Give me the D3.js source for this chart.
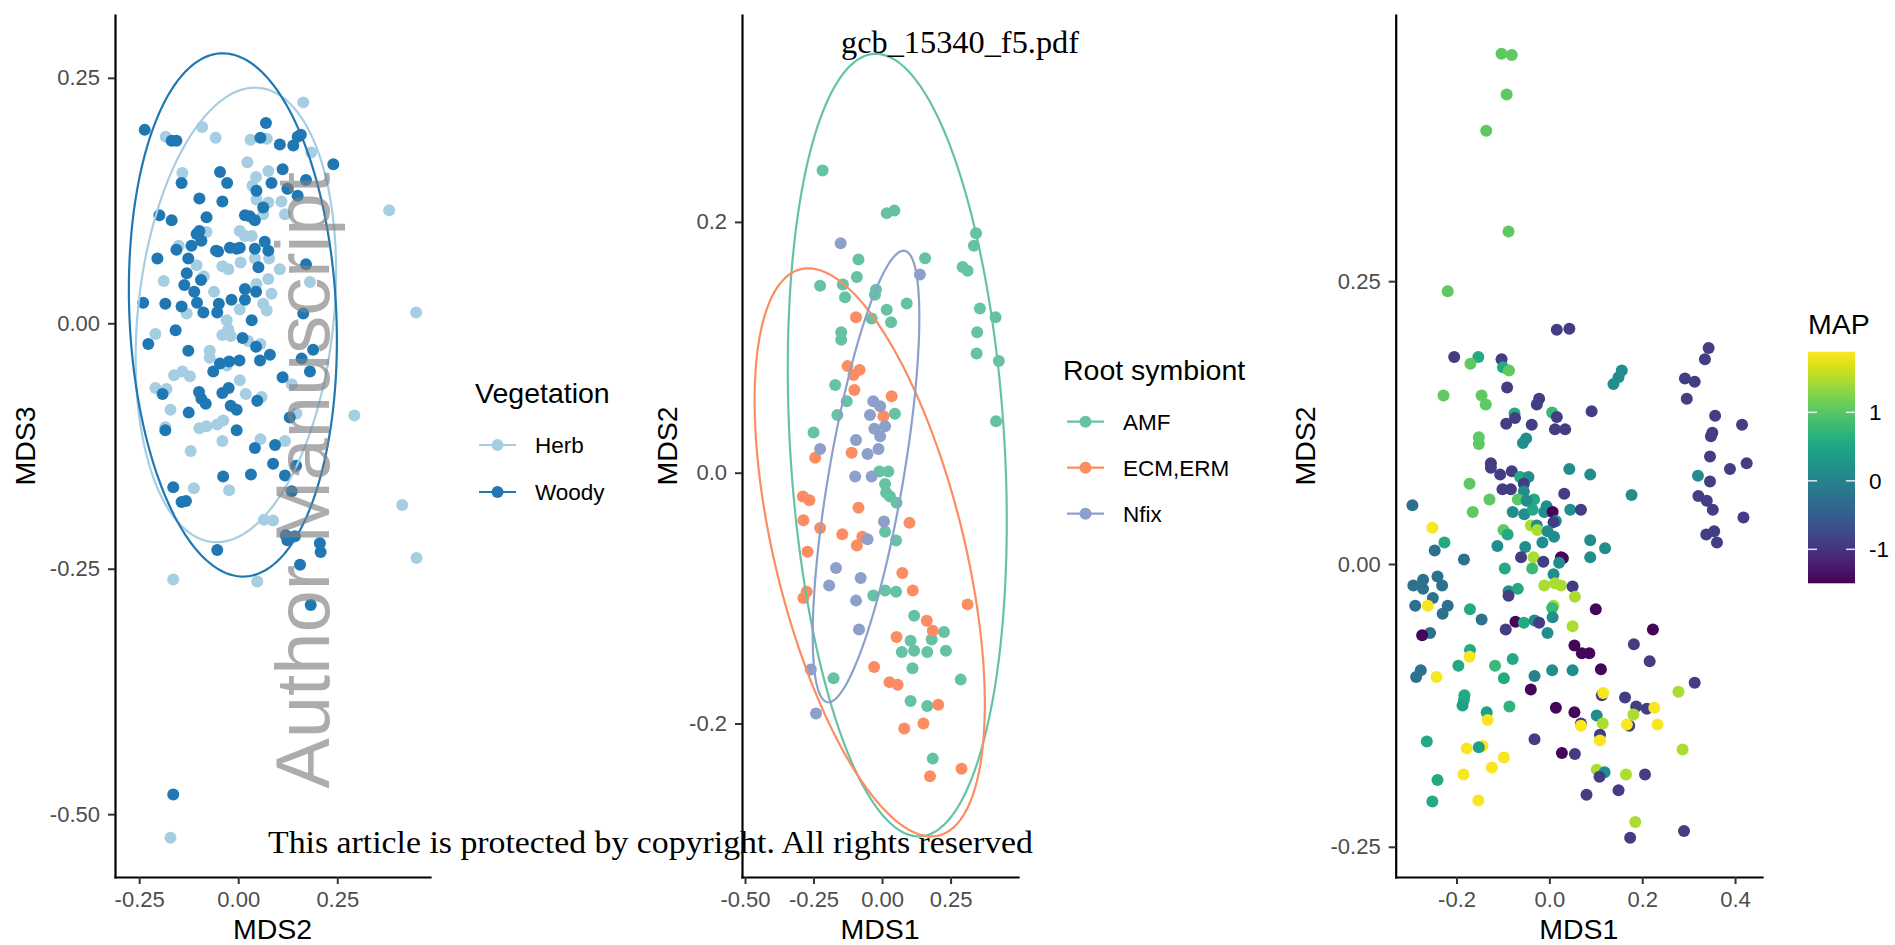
<!DOCTYPE html>
<html>
<head>
<meta charset="utf-8">
<script src="https://cdn.jsdelivr.net/npm/d3@7"></script>
<style>
  body { margin: 0; background: #fff; }
  svg { display: block; }
</style>
</head>
<body>
<svg id="fig" width="1895" height="945"></svg>
<script>
// ---- panel 1: vegetation (MDS2 x MDS3) ----
const herb = [[0.164,0.225],[-0.091,0.200],[-0.183,0.190],[-0.057,0.189],[0.031,0.187],[0.072,0.188],[0.184,0.174],[0.023,0.164],[0.076,0.155],[-0.141,0.153],[0.045,0.149],[0.036,0.140],[0.126,0.137],[0.046,0.126],[0.076,0.123],[0.109,0.124],[0.118,0.111],[0.381,0.115],[0.063,0.111],[-0.080,0.093],[0.004,0.094],[0.017,0.089],[0.034,0.089],[-0.150,0.079],[0.042,0.066],[0.078,0.066],[-0.105,0.059],[0.006,0.062],[-0.040,0.058],[-0.025,0.055],[0.105,0.055],[-0.087,0.048],[-0.188,0.043],[0.076,0.045],[0.181,0.042],[0.046,0.040],[-0.061,0.032],[0.084,0.030],[0.063,0.020],[0.004,0.014],[0.072,0.013],[-0.130,0.010],[0.449,0.011],[-0.029,0.003],[-0.209,-0.011],[-0.040,-0.012],[-0.019,-0.013],[-0.025,-0.006],[0.025,-0.018],[0.056,-0.021],[-0.072,-0.028],[-0.072,-0.035],[-0.029,-0.043],[-0.162,-0.053],[-0.141,-0.049],[-0.122,-0.054],[0.004,-0.058],[0.135,-0.062],[-0.209,-0.066],[-0.181,-0.067],[0.019,-0.072],[0.059,-0.075],[-0.171,-0.088],[0.147,-0.092],[0.293,-0.094],[-0.184,-0.106],[-0.098,-0.107],[-0.080,-0.105],[-0.053,-0.103],[-0.038,-0.099],[-0.040,-0.120],[0.056,-0.118],[0.118,-0.120],[-0.120,-0.130],[-0.112,-0.168],[-0.023,-0.170],[0.065,-0.200],[0.088,-0.201],[0.414,-0.185],[0.450,-0.239],[-0.164,-0.261],[0.048,-0.263],[-0.171,-0.524]];
const woody = [[0.070,0.204],[-0.236,0.197],[-0.168,0.186],[-0.156,0.186],[0.056,0.189],[0.105,0.182],[0.139,0.181],[0.150,0.190],[0.158,0.192],[0.240,0.162],[0.112,0.157],[-0.046,0.154],[-0.143,0.143],[-0.028,0.143],[0.046,0.135],[0.084,0.143],[0.171,0.146],[0.124,0.137],[0.150,0.130],[-0.098,0.127],[-0.040,0.124],[0.063,0.118],[-0.199,0.110],[-0.168,0.105],[-0.080,0.108],[0.017,0.110],[0.029,0.109],[0.042,0.105],[-0.098,0.094],[-0.105,0.091],[-0.093,0.084],[-0.118,0.079],[-0.156,0.075],[-0.056,0.074],[-0.051,0.073],[-0.021,0.077],[-0.004,0.076],[0.004,0.077],[0.042,0.076],[0.067,0.083],[0.076,0.074],[-0.204,0.066],[-0.126,0.066],[0.051,0.057],[0.171,0.060],[-0.130,0.051],[-0.094,0.044],[0.017,0.035],[0.045,0.032],[-0.136,0.039],[-0.111,0.032],[-0.017,0.024],[0.017,0.024],[-0.104,0.021],[-0.240,0.021],[-0.184,0.020],[-0.049,0.020],[-0.143,0.017],[-0.053,0.011],[-0.088,0.011],[0.164,0.010],[0.034,0.003],[-0.158,-0.007],[-0.227,-0.021],[0.011,-0.015],[-0.126,-0.028],[0.045,-0.024],[0.055,-0.038],[0.080,-0.032],[0.189,-0.027],[0.160,-0.036],[-0.046,-0.041],[-0.023,-0.039],[0.003,-0.038],[-0.063,-0.049],[0.112,-0.055],[0.181,-0.049],[-0.191,-0.072],[-0.099,-0.070],[-0.093,-0.077],[-0.082,-0.082],[-0.040,-0.071],[-0.024,-0.066],[0.048,-0.079],[-0.019,-0.084],[-0.004,-0.088],[-0.125,-0.091],[0.130,-0.096],[-0.184,-0.109],[-0.004,-0.109],[0.042,-0.127],[0.093,-0.124],[0.088,-0.143],[0.146,-0.145],[-0.038,-0.156],[0.032,-0.154],[0.118,-0.155],[-0.164,-0.167],[0.135,-0.171],[-0.143,-0.182],[-0.132,-0.181],[0.120,-0.216],[0.143,-0.217],[0.124,-0.221],[-0.053,-0.231],[0.206,-0.224],[0.208,-0.233],[0.156,-0.246],[0.183,-0.287],[-0.164,-0.480]];
// ellipse: x = cx + a cos t ; y = cy + c cos t + d sin t
const vegEllipses = [
  {group: "Herb",  cx: -0.006,  cy: 0.0085, a: 0.253,  c: 0.0444, d: 0.2272},
  {group: "Woody", cx: -0.0135, cy: 0.0085, a: 0.2625, c: -0.026, d: 0.2652}
];
const vegGroups = ["Herb", "Woody"];
const vegColors = ["#a6cee3", "#1f78b4"];

// ---- panel 2: root symbiont (MDS1 x MDS2) ----
const amf = [[-0.217,0.241],[-0.086,0.170],[-0.092,0.156],[-0.226,0.149],[-0.143,0.150],[-0.135,0.140],[-0.149,0.112],[-0.149,0.106],[-0.171,0.070],[-0.129,0.057],[-0.163,0.046],[-0.250,0.032],[0.017,0.207],[0.045,0.209],[0.343,0.191],[0.335,0.181],[0.157,0.171],[0.294,0.164],[0.312,0.161],[-0.022,0.146],[-0.026,0.142],[0.090,0.135],[0.017,0.130],[-0.038,0.123],[0.033,0.120],[0.357,0.131],[0.414,0.124],[0.347,0.112],[0.345,0.095],[0.426,0.089],[0.047,0.047],[0.416,0.041],[-0.010,0.001],[0.023,0.001],[0.011,-0.009],[0.015,-0.016],[0.029,-0.019],[0.053,-0.024],[0.011,-0.047],[0.051,-0.054],[0.011,-0.094],[0.051,-0.095],[-0.032,-0.098],[0.117,-0.114],[0.226,-0.127],[0.104,-0.134],[0.181,-0.133],[0.072,-0.143],[0.117,-0.142],[0.165,-0.143],[0.233,-0.142],[0.111,-0.156],[-0.177,-0.164],[0.287,-0.165],[0.104,-0.182],[0.165,-0.186],[0.185,-0.228]];
const ecm = [[-0.095,0.124],[-0.126,0.085],[-0.104,0.078],[-0.082,0.082],[-0.101,0.066],[-0.244,0.012],[-0.111,0.016],[0.035,0.061],[0.005,0.045],[-0.289,-0.019],[-0.265,-0.022],[-0.086,-0.028],[-0.287,-0.038],[0.100,-0.040],[-0.226,-0.044],[-0.145,-0.049],[-0.072,-0.051],[-0.092,-0.058],[-0.272,-0.063],[0.074,-0.080],[0.112,-0.094],[-0.275,-0.095],[-0.287,-0.100],[0.312,-0.105],[0.163,-0.118],[0.185,-0.126],[0.053,-0.131],[-0.029,-0.155],[0.027,-0.167],[0.057,-0.169],[0.205,-0.185],[0.151,-0.200],[0.081,-0.204],[0.175,-0.242],[0.290,-0.236]];
const nfix = [[-0.151,0.183],[0.138,0.158],[-0.226,0.019],[-0.095,0.026],[-0.098,-0.003],[-0.032,0.057],[-0.007,0.053],[-0.044,0.046],[0.011,0.037],[-0.028,0.035],[-0.007,0.029],[-0.013,0.019],[-0.053,0.015],[-0.038,-0.003],[0.007,-0.039],[-0.053,-0.053],[-0.168,-0.076],[-0.078,-0.084],[-0.193,-0.090],[-0.095,-0.102],[-0.084,-0.125],[-0.260,-0.157],[-0.241,-0.192]];
const symEllipses = [
  {group: "AMF",     cx: 0.0555,  cy: 0.022,   a: 0.3995, c: -0.061, d: 0.306},
  {group: "ECM,ERM", cx: -0.045,  cy: -0.0635, a: 0.42,   c: -0.121, d: 0.1915},
  {group: "Nfix",    cx: -0.0585, cy: -0.003,  a: 0.1945, c: 0.1268, d: 0.1278}
];
const symGroups = ["AMF", "ECM,ERM", "Nfix"];
const symColors = ["#66c2a5", "#fc8d62", "#8da0cb"];

// ---- panel 3: MAP (MDS1 x MDS2, colour = MAP) ----
const mapPts = [[-0.103,0.451,1.05],[-0.081,0.450,1.05],[-0.092,0.415,1.05],[-0.136,0.383,1.05],[-0.088,0.294,1.05],[-0.219,0.241,1.05],[0.016,0.207,-0.9],[0.043,0.208,-0.9],[0.343,0.191,-0.9],[0.335,0.181,-0.9],[-0.205,0.183,-0.9],[-0.153,0.183,0.55],[-0.170,0.177,1.05],[-0.103,0.181,-0.9],[-0.100,0.174,0.55],[-0.087,0.171,1.05],[0.156,0.171,0.15],[0.149,0.165,0.15],[0.138,0.159,0.15],[0.292,0.164,-0.9],[0.313,0.161,-0.9],[-0.091,0.156,-0.9],[-0.228,0.149,1.05],[-0.146,0.149,1.05],[-0.137,0.141,1.05],[0.296,0.146,-0.9],[-0.022,0.146,-0.9],[-0.027,0.141,-0.9],[0.006,0.134,0.8],[0.016,0.130,-0.9],[0.091,0.135,-0.9],[-0.075,0.133,0.55],[-0.074,0.129,-0.9],[-0.093,0.124,-0.9],[-0.038,0.123,-0.9],[0.357,0.131,-0.9],[0.415,0.123,-0.9],[0.012,0.119,-0.9],[0.034,0.119,-0.9],[0.351,0.116,-0.9],[0.348,0.113,-0.9],[-0.152,0.112,1.05],[-0.152,0.106,1.05],[-0.050,0.111,0.15],[-0.057,0.107,0.15],[0.346,0.095,-0.9],[0.389,0.084,-0.9],[0.425,0.089,-0.9],[-0.126,0.089,-0.9],[-0.126,0.085,-0.9],[-0.106,0.079,-0.9],[-0.081,0.082,-0.9],[0.043,0.084,0.15],[0.088,0.079,0.15],[0.320,0.078,0.15],[-0.063,0.077,0.55],[-0.045,0.077,0.15],[-0.172,0.071,1.05],
[0.346,0.073,-0.9],[0.321,0.060,-0.9],[0.339,0.056,-0.9],[0.352,0.048,-0.9],[0.418,0.041,-0.9],[0.338,0.026,-0.9],[0.355,0.029,-0.9],[0.361,0.019,-0.9],[0.177,0.061,0.15],[-0.101,0.066,-0.9],[-0.083,0.066,-0.9],[-0.055,0.071,-0.9],[-0.055,0.064,0.15],[-0.129,0.057,1.05],[-0.068,0.057,1.05],[-0.033,0.057,0.55],[-0.049,0.056,0.15],[0.032,0.062,-0.9],[0.045,0.048,0.15],[0.068,0.048,-0.9],[-0.295,0.052,-0.25],[-0.165,0.046,1.05],[-0.079,0.046,0.15],[-0.054,0.044,0.15],[-0.036,0.048,0.55],[-0.006,0.051,0.15],[-0.011,0.046,0.15],[0.007,0.046,-1.45],[0.014,0.038,0.15],[0.009,0.037,-0.9],[-0.040,0.034,1.45],[-0.027,0.034,0.15],[-0.026,0.030,1.45],[-0.252,0.032,1.85],[-0.099,0.030,1.05],[-0.090,0.026,0.55],[-0.004,0.029,0.15],[0.010,0.024,0.15],[-0.015,0.019,0.15],[-0.226,0.019,0.55],[-0.247,0.012,-0.25],[-0.112,0.016,0.15],[-0.052,0.015,0.15],[0.088,0.021,0.15],[0.120,0.014,0.15],[0.088,0.006,0.15],[-0.061,0.006,-0.9],[-0.034,0.006,1.45],[-0.013,0.002,-0.9],[0.025,0.006,-1.45],[0.029,0.005,-1.45],[0.021,0.001,0.15],[-0.184,0.004,-0.25],[-0.096,-0.004,0.55],[-0.037,-0.004,0.8],[0.009,-0.009,0.15],[-0.241,-0.011,-0.25],[-0.272,-0.014,-0.25],[-0.293,-0.019,-0.25],[-0.272,-0.022,-0.25],[-0.231,-0.019,-0.25],[-0.011,-0.019,1.45],[0.012,-0.017,1.45],[0.025,-0.019,1.45],[0.050,-0.020,-0.9],[-0.088,-0.024,0.15],[-0.068,-0.022,0.55],[-0.088,-0.028,-0.9],[0.055,-0.029,1.45],[-0.251,-0.030,-0.25],[-0.289,-0.037,-0.25],[-0.262,-0.037,1.85],[-0.219,-0.037,-0.25],[-0.230,-0.044,-0.25],[-0.171,-0.040,0.55],[0.009,-0.037,1.45],[0.006,-0.039,0.8],[0.007,-0.047,0.15],[0.100,-0.040,-1.45],[-0.146,-0.049,-0.25],[-0.073,-0.051,-1.45],[-0.055,-0.052,0.55],[-0.032,-0.050,0.15],[-0.022,-0.052,-0.9],[-0.094,-0.058,-0.9],[0.050,-0.055,1.45],[0.223,-0.058,-1.45],[-0.257,-0.061,-0.25],[-0.274,-0.063,-1.45],[-0.004,-0.061,0.15],[0.054,-0.072,-1.45],[0.182,-0.071,-0.9],[0.070,-0.079,-1.45],[0.086,-0.079,-1.45],[-0.171,-0.076,0.55],[-0.172,-0.082,1.85],[-0.079,-0.084,0.55],[0.216,-0.086,-0.9],[-0.196,-0.090,0.55],[-0.117,-0.090,0.8],[0.006,-0.094,0.15],[0.050,-0.094,0.15],[0.111,-0.093,-1.45],[-0.277,-0.094,-0.25],[-0.287,-0.100,-0.25],[-0.243,-0.100,1.85],[-0.098,-0.101,0.55],[-0.032,-0.099,0.0],[0.313,-0.105,-0.9],[0.278,-0.113,1.45],[-0.040,-0.111,-1.45],[0.113,-0.116,-0.9],[0.116,-0.114,1.85],[-0.183,-0.116,0.55],[-0.184,-0.120,0.55],[-0.187,-0.125,0.4],[-0.086,-0.126,0.7],[0.163,-0.118,-0.9],[0.014,-0.127,-1.45],[0.187,-0.126,-0.9],[0.210,-0.128,-0.9],[0.226,-0.127,1.85],[0.054,-0.131,-1.45],[-0.135,-0.131,0.4],[-0.133,-0.138,1.85],[0.102,-0.134,0.15],[0.181,-0.133,1.45],[0.068,-0.141,-0.9],[0.068,-0.143,1.85],[0.115,-0.141,1.45],[0.172,-0.143,-0.9],[0.167,-0.142,1.85],[0.233,-0.142,1.85],[0.109,-0.151,-0.9],[0.109,-0.156,1.85],[-0.032,-0.155,-0.9],[-0.264,-0.157,0.55],[0.287,-0.164,1.45],[-0.144,-0.161,1.85],[-0.152,-0.162,0.4],[-0.178,-0.163,1.85],[0.027,-0.167,-1.45],[0.055,-0.168,-0.9],[-0.098,-0.171,1.85],[-0.124,-0.180,1.85],[0.102,-0.182,1.45],[0.119,-0.184,0.15],[0.108,-0.188,-0.9],[0.165,-0.186,1.45],[0.206,-0.186,-0.9],[-0.185,-0.186,1.85],[-0.241,-0.191,0.55],[0.080,-0.204,-0.9],[0.149,-0.200,-0.9],[-0.252,-0.210,0.55],[-0.153,-0.209,1.85],[0.185,-0.228,1.45],[0.174,-0.242,-0.9],[0.290,-0.236,-0.9]];
const mapDomain = [-1.496, 1.885];
const mapTicks = [-1, 0, 1];

const svg = d3.select("#fig");
const sans = '"Liberation Sans", Arial, sans-serif';
const serif = '"Liberation Serif", "DejaVu Serif", serif';
const R = 6;

const fmt = p => { const f = d3.format(p); return d => f(d).replace("\u2212", "-"); };

function makePanel(o) {
  const x = d3.scaleLinear().domain(o.xDomain).range([o.left, o.right]);
  const y = d3.scaleLinear().domain(o.yDomain).range([o.bottom, o.top]);
  const g = svg.append("g");
  return {x, y, g, o};
}

function drawAxes(p) {
  const {x, y, o} = p;
  const ax = svg.append("g").attr("transform", `translate(0,${o.bottom})`)
    .call(d3.axisBottom(x).tickValues(o.xTicks).tickFormat(fmt(o.xFmt)).tickSize(7).tickSizeOuter(0).tickPadding(7));
  const ay = svg.append("g").attr("transform", `translate(${o.left},0)`)
    .call(d3.axisLeft(y).tickValues(o.yTicks).tickFormat(fmt(o.yFmt)).tickSize(7).tickSizeOuter(0).tickPadding(8));
  [ax, ay].forEach(a => {
    a.select(".domain").attr("stroke", "#000").attr("stroke-width", 2.2).attr("stroke-linecap", "square");
    a.selectAll(".tick line").attr("stroke", "#333").attr("stroke-width", 2);
    a.selectAll(".tick text").attr("fill", "#4d4d4d").attr("font-family", sans).attr("font-size", 22);
  });
  svg.append("text").attr("x", (o.left + o.right) / 2).attr("y", 939)
    .attr("text-anchor", "middle").attr("font-family", sans).attr("font-size", 28.5)
    .text(o.xLabel);
  svg.append("text").attr("transform", `translate(${o.yLabelX},446) rotate(-90)`)
    .attr("text-anchor", "middle").attr("font-family", sans).attr("font-size", 28.5)
    .text(o.yLabel);
}

function ellipsePath(p, e) {
  const ts = d3.range(0, 201).map(i => i / 200 * 2 * Math.PI);
  return d3.line()
    .x(t => p.x(e.cx + e.a * Math.cos(t)))
    .y(t => p.y(e.cy + e.c * Math.cos(t) + e.d * Math.sin(t)))(ts);
}

function drawPoints(p, data, color) {
  p.g.append("g").selectAll("circle").data(data).join("circle")
    .attr("cx", d => p.x(d[0])).attr("cy", d => p.y(d[1])).attr("r", R)
    .attr("fill", typeof color === "function" ? color : () => color);
}

function legend(x0, titleY, title, groups, colors, firstY, step) {
  const lg = svg.append("g");
  lg.append("text").attr("x", x0).attr("y", titleY).attr("font-family", sans)
    .attr("font-size", 28.5).text(title);
  groups.forEach((name, i) => {
    const cy = firstY + i * step;
    lg.append("line").attr("x1", x0 + 4).attr("x2", x0 + 41).attr("y1", cy).attr("y2", cy)
      .attr("stroke", colors[i]).attr("stroke-width", 2.2);
    lg.append("circle").attr("cx", x0 + 22.5).attr("cy", cy).attr("r", R).attr("fill", colors[i]);
    lg.append("text").attr("x", x0 + 60).attr("y", cy).attr("dy", "0.35em")
      .attr("font-family", sans).attr("font-size", 22.5).text(name);
  });
}

// panel 1
const p1 = makePanel({left: 115, right: 430, top: 15, bottom: 877,
  xDomain: [-0.311, 0.484], yDomain: [-0.564, 0.314],
  xTicks: [-0.25, 0, 0.25], yTicks: [-0.5, -0.25, 0, 0.25], xFmt: ".2f", yFmt: ".2f",
  xLabel: "MDS2", yLabel: "MDS3", yLabelX: 35});
drawPoints(p1, herb, vegColors[0]);
drawPoints(p1, woody, vegColors[1]);
p1.g.selectAll("path.ell").data(vegEllipses).join("path").attr("class", "ell")
  .attr("d", e => ellipsePath(p1, e)).attr("fill", "none").attr("stroke-width", 2.2)
  .attr("stroke", e => vegColors[vegGroups.indexOf(e.group)]);
drawAxes(p1);
legend(475, 403, "Vegetation", vegGroups, vegColors, 445, 47);

// panel 2
const p2 = makePanel({left: 742, right: 1018, top: 15, bottom: 877,
  xDomain: [-0.511, 0.496], yDomain: [-0.3224, 0.365],
  xTicks: [-0.5, -0.25, 0, 0.25], yTicks: [-0.2, 0, 0.2], xFmt: ".2f", yFmt: ".1f",
  xLabel: "MDS1", yLabel: "MDS2", yLabelX: 677});
drawPoints(p2, amf, symColors[0]);
drawPoints(p2, ecm, symColors[1]);
drawPoints(p2, nfix, symColors[2]);
p2.g.selectAll("path.ell").data(symEllipses).join("path").attr("class", "ell")
  .attr("d", e => ellipsePath(p2, e)).attr("fill", "none").attr("stroke-width", 2.2)
  .attr("stroke", e => symColors[symGroups.indexOf(e.group)]);
drawAxes(p2);
legend(1063, 380, "Root symbiont", symGroups, symColors, 421.7, 46);

// panel 3
const color3 = d3.scaleSequential(d3.interpolateViridis).domain(mapDomain);
const p3 = makePanel({left: 1395.7, right: 1762, top: 15, bottom: 877,
  xDomain: [-0.331, 0.458], yDomain: [-0.2767, 0.4853],
  xTicks: [-0.2, 0, 0.2, 0.4], yTicks: [-0.25, 0, 0.25], xFmt: ".1f", yFmt: ".2f",
  xLabel: "MDS1", yLabel: "MDS2", yLabelX: 1315});
drawPoints(p3, mapPts, d => color3(d[2]));
drawAxes(p3);

// colour bar
const barX = 1808, barW = 47, barTop = 351.7, barBot = 583.3;
const barY = d3.scaleLinear().domain(mapDomain).range([barBot, barTop]);
const grad = svg.append("defs").append("linearGradient").attr("id", "vir")
  .attr("x1", 0).attr("x2", 0).attr("y1", 1).attr("y2", 0);
d3.range(0, 21).forEach(i => grad.append("stop").attr("offset", i / 20)
  .attr("stop-color", d3.interpolateViridis(i / 20)));
svg.append("text").attr("x", barX).attr("y", 334).attr("font-family", sans)
  .attr("font-size", 28.5).text("MAP");
svg.append("rect").attr("x", barX).attr("y", barTop).attr("width", barW)
  .attr("height", barBot - barTop).attr("fill", "url(#vir)");
mapTicks.forEach(v => {
  const yy = barY(v);
  [[barX, barX + 9], [barX + barW - 9, barX + barW]].forEach(([a, b]) =>
    svg.append("line").attr("x1", a).attr("x2", b).attr("y1", yy).attr("y2", yy)
      .attr("stroke", "#fff").attr("stroke-width", 1.5).attr("opacity", 0.85));
  svg.append("text").attr("x", barX + 61).attr("y", yy).attr("dy", "0.35em")
    .attr("font-family", sans).attr("font-size", 22.5).text(v < 0 ? "-" + Math.abs(v) : v);
});

// overlays from the manuscript pdf
svg.append("text").attr("transform", "translate(329,480.5) rotate(-90)")
  .attr("text-anchor", "middle").attr("font-family", sans).attr("font-size", 76)
  .attr("fill", "#808080").attr("opacity", 0.65).text("Author Manuscript");
svg.append("text").attr("x", 841).attr("y", 53).attr("font-family", serif)
  .attr("font-size", 31).attr("textLength", 238).attr("lengthAdjust", "spacingAndGlyphs")
  .text("gcb_15340_f5.pdf");
svg.append("text").attr("x", 268).attr("y", 853).attr("font-family", serif)
  .attr("font-size", 32).attr("textLength", 765).attr("lengthAdjust", "spacingAndGlyphs")
  .text("This article is protected by copyright. All rights reserved");
</script>
</body>
</html>
